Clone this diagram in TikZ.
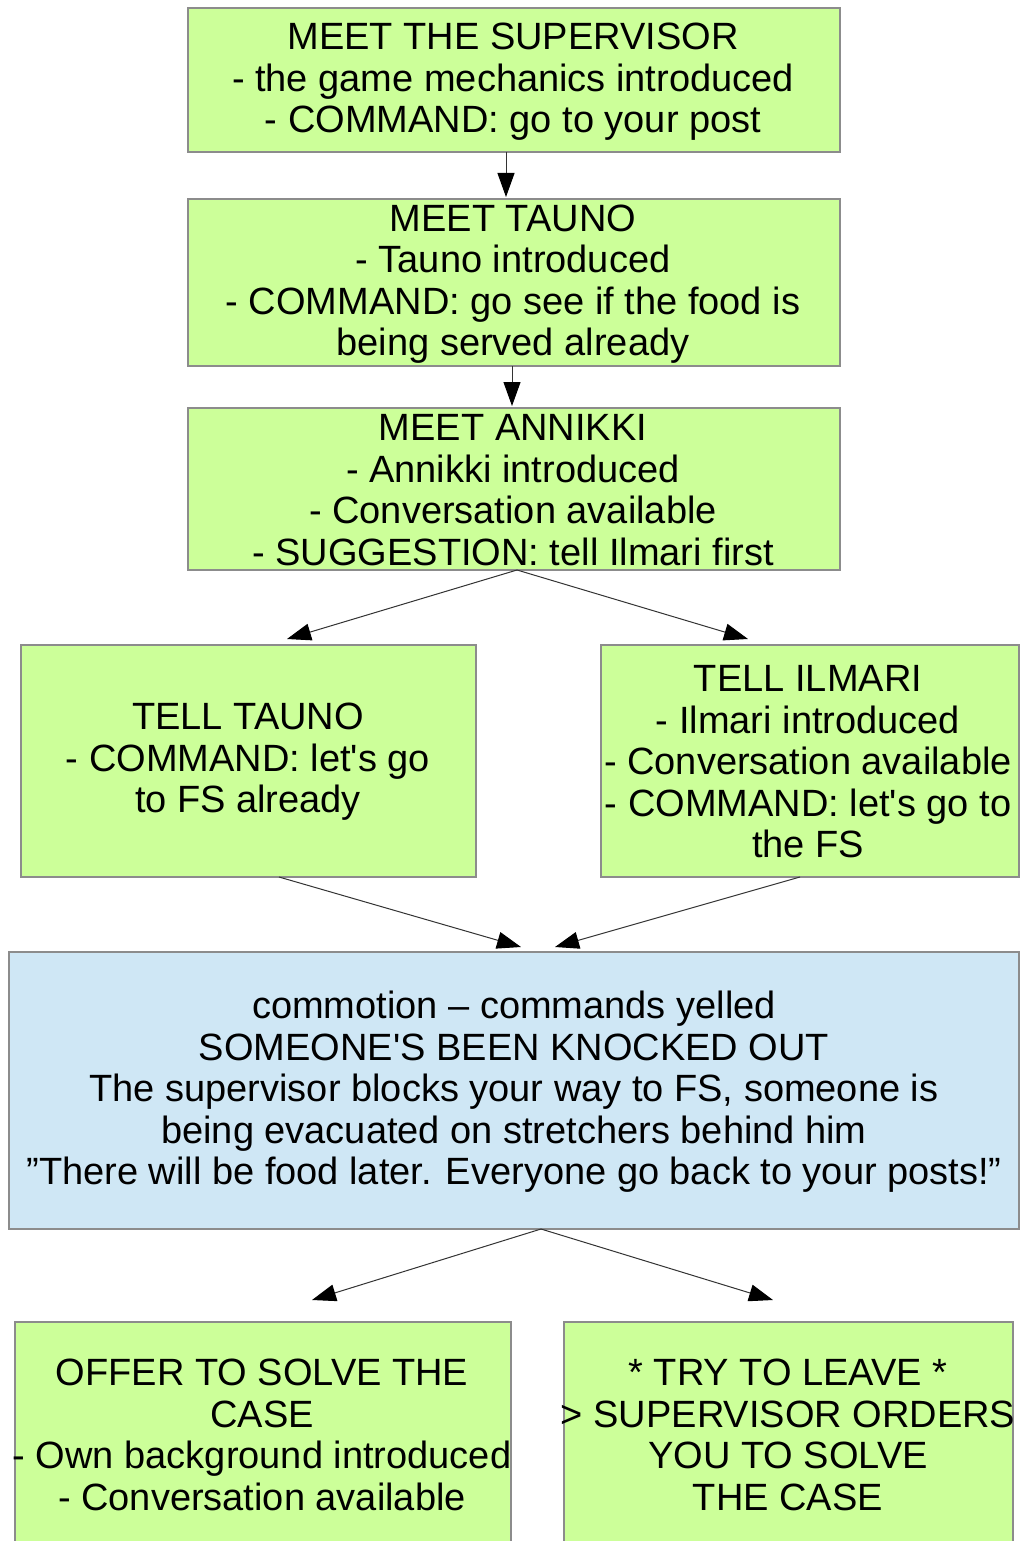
\documentclass[tikz,border=0pt]{standalone}
\usepackage{fontspec}
\setmainfont{Liberation Sans}[Ligatures=TeXOff]
\usetikzlibrary{arrows.meta}
\definecolor{boxgreen}{HTML}{CCFF99}
\definecolor{boxblue}{HTML}{CFE7F5}
\definecolor{edgegray}{HTML}{8C8C8C}
\begin{document}
\begin{tikzpicture}[x=1pt,y=-1pt,
  greenbox/.style={draw=edgegray, line width=1.2pt, fill=boxgreen, anchor=north west, inner sep=0pt, outer sep=0pt},
  bluebox/.style={draw=edgegray, line width=1.2pt, fill=boxblue, anchor=north west, inner sep=0pt, outer sep=0pt},
  boxtext/.style={align=center, inner sep=0pt, font=\fontsize{38}{41.5}\selectfont},
  link/.style={draw=black!80, line width=1pt, -{Triangle[length=24pt,width=17pt,color=black,fill=black]}}]
\fill[white] (0,0) rectangle (1023,1541);
\clip (0,0) rectangle (1023,1541);

% boxes
\node[greenbox, minimum width=652pt, minimum height=144pt] (sup) at (188,8) {};
\node[greenbox, minimum width=652pt, minimum height=167pt] (tau) at (188,199) {};
\node[greenbox, minimum width=652pt, minimum height=162pt] (ann) at (188,408) {};
\node[greenbox, minimum width=455pt, minimum height=232pt] (ttau) at (21,645) {};
\node[greenbox, minimum width=418pt, minimum height=232pt] (tilm) at (601,645) {};
\node[bluebox, minimum width=1010pt, minimum height=277pt] (comm) at (9,952) {};
\node[greenbox, minimum width=496pt, minimum height=223pt] (offer) at (15,1322) {};
\node[greenbox, minimum width=449pt, minimum height=223pt] (leave) at (564,1322) {};

% texts
\node[boxtext] (sup-t) at (513,82) {MEET THE SUPERVISOR\\- the game mechanics introduced\\- COMMAND: go to your post};
\node[boxtext] (tau-t) at (513,284) {MEET TAUNO\\- Tauno introduced\\- COMMAND: go see if the food is\\being served already};
\node[boxtext] (ann-t) at (513,490) {MEET ANNIKKI\\- Annikki introduced\\- Conversation available\\- SUGGESTION: tell Ilmari first};
\node[boxtext] (ttau-t) at (248,762) {TELL TAUNO\\- COMMAND: let's go\\to FS already};
\node[boxtext] (tilm-t) at (808,762) {TELL ILMARI\\- Ilmari introduced\\- Conversation available\\- COMMAND: let's go to\\the FS};
\node[boxtext] (comm-t) at (514,1092) {commotion – commands yelled\\SOMEONE'S BEEN KNOCKED OUT\\The supervisor blocks your way to FS, someone is\\being evacuated on stretchers behind him\\”There will be food later. Everyone go back to your posts!”};
\node[boxtext] (offer-t) at (262,1435) {OFFER TO SOLVE THE\\CASE\\- Own background introduced\\- Conversation available};
\node[boxtext] (leave-t) at (788,1435) {* TRY TO LEAVE *\\> SUPERVISOR ORDERS\\YOU TO SOLVE\\THE CASE};

% connector end points
\coordinate (e1) at (506,197);
\coordinate (e2) at (512,406);
\coordinate (s3) at (517,570);
\coordinate (e3l) at (287,639);
\coordinate (e3r) at (748,639);
\coordinate (s4) at (279,877);
\coordinate (s5) at (800,877);
\coordinate (e6l) at (521,947);
\coordinate (e6r) at (555,947);
\coordinate (s6) at (541,1229);
\coordinate (e7) at (312,1300);
\coordinate (e8) at (773,1300);

% connectors
\draw[link] (sup.south -| e1) -- (e1);
\draw[link] (tau.south -| e2) -- (e2);
\draw[link] (s3) -- (e3l);
\draw[link] (s3) -- (e3r);
\draw[link] (s4) -- (e6l);
\draw[link] (s5) -- (e6r);
\draw[link] (s6) -- (e7);
\draw[link] (s6) -- (e8);
\end{tikzpicture}
\end{document}
